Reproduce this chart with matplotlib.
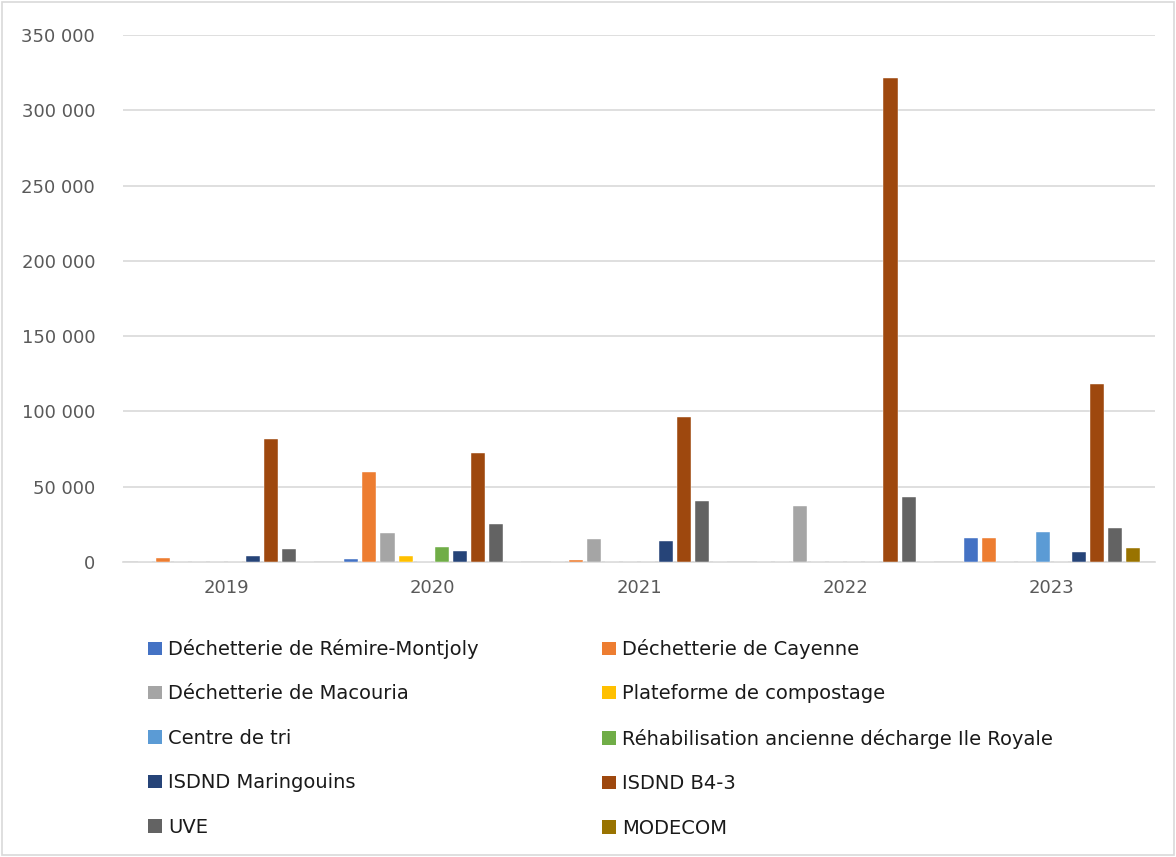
import numpy as np
import matplotlib
matplotlib.use("Agg")
import matplotlib.pyplot as plt
from matplotlib.ticker import FuncFormatter
from matplotlib.patches import Rectangle, Patch

# ── Data ──────────────────────────────────────────────────────────────────────

years = ["2019", "2020", "2021", "2022", "2023"]

series = [
    "Déchetterie de Rémire-Montjoly",
    "Déchetterie de Cayenne",
    "Déchetterie de Macouria",
    "Plateforme de compostage",
    "Centre de tri",
    "Réhabilisation ancienne décharge Ile Royale",
    "ISDND Maringouins",
    "ISDND B4-3",
    "UVE",
    "MODECOM",
]

remire     = [0, 2200, 0, 0, 16000]
cayenne    = [2800, 59800, 1500, 0, 16000]
macouria   = [0, 19000, 15000, 37200, 0]
compostage = [0, 4000, 0, 0, 0]
centre_tri = [0, 0, 0, 0, 20000]
rehab      = [0, 10000, 0, 0, 0]
maringouin = [3800, 7100, 14000, 0, 6900]
b4_3       = [82000, 72600, 96000, 321500, 118000]
uve        = [8400, 25200, 40500, 43000, 22400]
modecom    = [0, 0, 0, 0, 9300]

values = [remire, cayenne, macouria, compostage, centre_tri,
          rehab, maringouin, b4_3, uve, modecom]

colors = ["#4472C4", "#ED7D31", "#A5A5A5", "#FFC000", "#5B9BD5",
          "#70AD47", "#264478", "#9E480E", "#636363", "#997300"]

# ── Figure ────────────────────────────────────────────────────────────────────

W, H = 1176, 857
fig = plt.figure(figsize=(W / 100, H / 100), dpi=100)
ax = fig.add_axes([123 / W, 1 - 562 / H, (1155 - 123) / W, (562 - 35) / H])

plt.rcParams["font.family"] = ["DejaVu Sans"]
TEXT = "#595959"
GRID = "#D9D9D9"

x = np.arange(len(years))
pitch = 18 / 206
width = 14 / 206
for i, (vals, col) in enumerate(zip(values, colors)):
    ax.bar(x + (i - 4.5) * pitch, vals, width, color=col,
           edgecolor="white", linewidth=0.3, zorder=3)

ax.set_xlim(-0.5, len(years) - 0.5)
ax.set_ylim(0, 350000)
ax.set_yticks(np.arange(0, 350001, 50000))
ax.yaxis.set_major_formatter(FuncFormatter(lambda v, _: f"{int(v):,}".replace(",", " ")))
ax.set_xticks(x)
ax.set_xticklabels(years)
ax.tick_params(axis="both", length=0, labelsize=13, colors=TEXT)
ax.tick_params(axis="x", pad=12)
ax.tick_params(axis="y", pad=20)
ax.grid(axis="y", color=GRID, linewidth=1.2, zorder=0)
for s in ["top", "right", "left"]:
    ax.spines[s].set_visible(False)
ax.spines["bottom"].set_color(GRID)
ax.spines["bottom"].set_linewidth(1.2)

# ── Legend (two columns, row-major order like Excel) ─────────────────────────

handles = [Patch(facecolor=c, edgecolor="none") for c in colors]
kw = dict(frameon=False, fontsize=14, labelcolor="#1a1a1a", handlelength=0.72,
          handleheight=0.68, handletextpad=0.3, labelspacing=1.31,
          borderaxespad=0, borderpad=0)
leg1 = fig.legend(handles[0::2], series[0::2], loc="upper left",
                  bbox_to_anchor=(148 / W, 1 - 639 / H), **kw)
leg2 = fig.legend(handles[1::2], series[1::2], loc="upper left",
                  bbox_to_anchor=(602 / W, 1 - 639 / H), **kw)

# chart area border
fig.patches.append(Rectangle((0.002, 0.002), 0.996, 0.996, transform=fig.transFigure,
                             fill=False, edgecolor=GRID, linewidth=1.2))

fig.savefig("out.png", dpi=100)
